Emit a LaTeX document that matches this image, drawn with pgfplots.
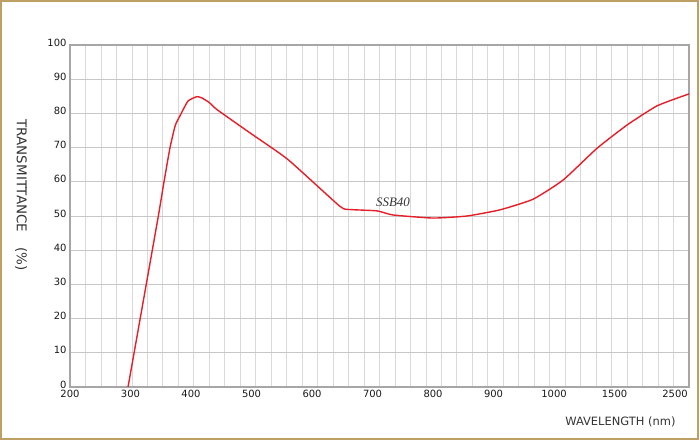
\documentclass[border=0pt]{standalone}
\usepackage{pgfplots}
\pgfplotsset{compat=1.18}
\usepackage{fontspec}
\setmainfont{DejaVu Sans}
\newfontfamily\serifit{Liberation Serif}
\definecolor{framec}{RGB}{190,160,100}
\definecolor{curvec}{RGB}{230,30,40}
\begin{document}
\begin{tikzpicture}
\useasboundingbox (0,0) rectangle (700bp,440bp);
\draw[framec, line width=2bp] (1bp,1bp) rectangle (698bp,439bp);
\begin{axis}[
  at={(70bp,53bp)}, anchor=south west,
  scale only axis, width=619bp, height=342bp,
  xmin=0, xmax=10.231, ymin=0, ymax=100,
  xtick={0,1,2,3,4,5,6,7,8,9,10},
  xticklabels={200,300,400,500,600,700,800,900,1000,1500,2500},
  ytick={0,10,20,30,40,50,60,70,80,90,100},
  minor xtick={0,0.25577,...,10.3},
  xmajorgrids=false, xminorgrids=true, ymajorgrids=true,
  minor grid style={draw=black!15, line width=0.8bp},
  major grid style={draw=black!22, line width=0.8bp},
  major tick length=0pt, minor tick length=0pt,
  axis line style={draw=black!35, line width=1.3bp},
  tick label style={font=\fontsize{10}{11}\selectfont, text=black!90},
  yticklabel style={yshift=2.5bp},
  /pgf/number format/assume math mode=true,
]
\addplot[curvec, line width=1.4bp, smooth, tension=0.3] coordinates {
(0.959,0) (1.21,25) (1.46,50) (1.554,60) (1.653,70) (1.74,76.5) (1.818,79.3)
(1.95,83.6) (2.099,84.9) (2.182,84.5) (2.30,83.2) (2.43,81.1)
(2.975,74.3) (3.603,66.5) (4.463,52.8) (4.628,51.9) (5.074,51.5)
(5.339,50.3) (6.0,49.4) (6.562,50.0) (7.107,51.8) (7.653,54.9)
(8.149,60.5) (8.711,69.8) (9.207,76.6) (9.702,82.2) (10.231,85.7)
};
\node[font=\serifit\itshape\fontsize{13}{14}\selectfont, text=black!80] at (axis cs:5.339,53.9) {SSB40};
\end{axis}
\node[rotate=-90, font=\fontsize{13.5}{15}\selectfont, text=black!80] at (21bp,245bp) {TRANSMITTANCE\hspace{1.1em}(\%)};
\node[anchor=east, font=\fontsize{11.5}{13}\selectfont, text=black!80] at (679bp,18bp) {WAVELENGTH (nm)};
\end{tikzpicture}
\end{document}
